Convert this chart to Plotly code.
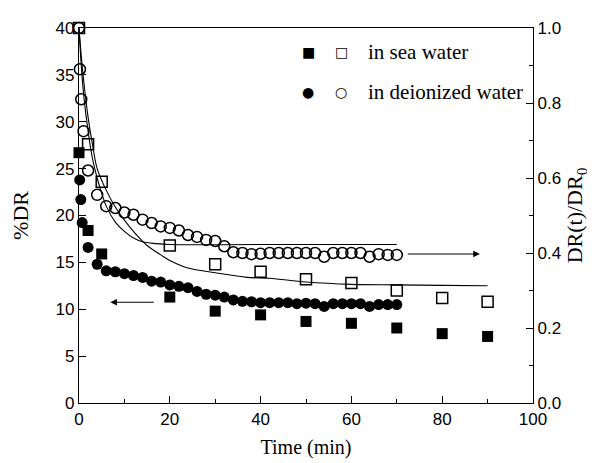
import plotly.graph_objects as go

# ---- data ----
t_sea = [0, 2, 5, 20, 30, 40, 50, 60, 70, 80, 90]
dr_sea = [26.7, 18.4, 15.9, 11.3, 9.8, 9.4, 8.7, 8.5, 8.0, 7.4, 7.1]
ratio_sea = [1.0, 0.69, 0.59, 0.42, 0.37, 0.35, 0.33, 0.32, 0.30, 0.28, 0.27]

t_di = [0.15, 0.4, 0.7, 2] + list(range(4, 71, 2))
dr_di = [23.8, 21.7, 19.25, 16.6, 14.8, 14.1,
         14.0, 13.8, 13.6, 13.4, 13.0, 12.9, 12.6, 12.45, 12.3, 11.9,
         11.6, 11.5, 11.3, 11.0, 10.85, 10.8, 10.7, 10.7, 10.7, 10.7,
         10.6, 10.65, 10.6, 10.3, 10.6, 10.6, 10.6, 10.6, 10.3, 10.5,
         10.5, 10.5]

t_di_ratio = [0, 0.2, 0.5, 1, 2] + list(range(4, 71, 2))
ratio_di = [1.0, 0.89, 0.81, 0.725, 0.62,
            0.555, 0.525, 0.52, 0.508, 0.502, 0.489, 0.48, 0.471, 0.467, 0.46,
            0.448, 0.443, 0.435, 0.432, 0.418, 0.402, 0.40, 0.397, 0.398,
            0.40, 0.40, 0.40, 0.40, 0.40, 0.40, 0.39, 0.40, 0.40, 0.40,
            0.40, 0.39, 0.397, 0.395, 0.395]

fitA_t = [0, 0.5, 1, 2, 3, 4, 4.6, 6, 8, 10, 12, 14, 17, 20, 40, 70]
fitA = [40, 36, 33, 29, 26, 24, 23, 21, 19.3, 18.3, 17.6, 17.2, 17.0, 16.9, 16.9, 16.9]
fitB_t = [0, 0.5, 1, 2, 3, 4, 5.7, 8, 10, 12, 15, 18, 20, 24, 30, 37, 42, 50, 60, 70, 80, 90]
fitB = [40, 37, 34.5, 30.5, 27.5, 25, 23, 20.9, 19.5, 18.3, 16.8, 15.8, 15.2, 14.4,
        13.9, 13.4, 13.3, 12.9, 12.65, 12.6, 12.55, 12.5]

x_ticks = [0, 20, 40, 60, 80, 100]
y_ticks = [0, 5, 10, 15, 20, 25, 30, 35, 40]
y2_ticks = [0.0, 0.2, 0.4, 0.6, 0.8, 1.0]

SERIF = "Liberation Serif"
SANS = "Liberation Sans"

fig = go.Figure()

line_style = dict(color="black", width=1.1)
fig.add_trace(go.Scatter(x=fitA_t, y=fitA, mode="lines", line=dict(shape="spline", **line_style),
                         showlegend=False, yaxis="y"))
fig.add_trace(go.Scatter(x=fitB_t, y=fitB, mode="lines", line=dict(shape="spline", **line_style),
                         showlegend=False, yaxis="y"))

fig.add_trace(go.Scatter(x=t_di_ratio, y=ratio_di, mode="markers", yaxis="y2",
                         marker=dict(symbol="circle-open", size=11, color="black",
                                     line=dict(width=1.5, color="black")),
                         cliponaxis=False, showlegend=False))
fig.add_trace(go.Scatter(x=t_sea, y=ratio_sea, mode="markers", yaxis="y2",
                         marker=dict(symbol="square-open", size=11, color="black",
                                     line=dict(width=1.5, color="black")),
                         cliponaxis=False, showlegend=False))
fig.add_trace(go.Scatter(x=t_di, y=dr_di, mode="markers", yaxis="y",
                         marker=dict(symbol="circle", size=11, color="black"),
                         cliponaxis=False, showlegend=False))
fig.add_trace(go.Scatter(x=t_sea, y=dr_sea, mode="markers", yaxis="y",
                         marker=dict(symbol="square", size=11, color="black"),
                         cliponaxis=False, showlegend=False))

# arrows pointing to the relevant axes
fig.add_annotation(x=6.9, y=10.74, ax=16.8, ay=10.74, xref="x", yref="y", axref="x", ayref="y",
                   text="", showarrow=True, arrowhead=2, arrowsize=1.2, arrowwidth=1.1,
                   arrowcolor="black")
fig.add_annotation(x=88.3, y=15.9, ax=72.1, ay=15.9, xref="x", yref="y", axref="x", ayref="y",
                   text="", showarrow=True, arrowhead=2, arrowsize=1.2, arrowwidth=1.1,
                   arrowcolor="black")

# legend built from text
legend_rows = [("■", "□", "in sea water", 0.937), ("●", "○", "in deionized water", 0.83)]
for filled, hollow, label, yy in legend_rows:
    fig.add_annotation(x=(300 - 71) / 454, y=yy, xref="paper", yref="paper", text=filled,
                       showarrow=False, font=dict(family="DejaVu Sans", size=14, color="black"),
                       xanchor="center", yanchor="middle")
    fig.add_annotation(x=(333 - 71) / 454, y=yy, xref="paper", yref="paper", text=hollow,
                       showarrow=False, font=dict(family="DejaVu Sans", size=14, color="black"),
                       xanchor="center", yanchor="middle")
    fig.add_annotation(x=(358 - 71) / 454, y=yy, xref="paper", yref="paper", text=label,
                       showarrow=False, font=dict(family=SERIF, size=21, color="black"),
                       xanchor="left", yanchor="middle")

axis_common = dict(showline=True, linecolor="black", linewidth=1.2, showgrid=False,
                   zeroline=False, ticks="inside", tickcolor="black", ticklen=7, tickwidth=1,
                   tickfont=dict(family=SANS, size=17, color="black"))

fig.update_layout(
    width=595, height=463,
    margin=dict(l=71, r=70, t=20, b=68),
    paper_bgcolor="white", plot_bgcolor="white",
    showlegend=False,
    xaxis=dict(range=[0, 100], tickvals=x_ticks, mirror=True,
               minor=dict(ticks="inside", ticklen=4, dtick=10, tickcolor="black"),
               title=dict(text="Time (min)", font=dict(family=SERIF, size=20, color="black"),
                          standoff=12),
               **axis_common),
    yaxis=dict(range=[0, 40], tickvals=y_ticks,
               title=dict(text="%DR", font=dict(family=SERIF, size=22, color="black"),
                          standoff=20),
               **axis_common),
    yaxis2=dict(range=[0, 1], tickvals=y2_ticks, tickformat=".1f", overlaying="y", side="right",
                minor=dict(ticks="inside", ticklen=4, dtick=0.1, tickcolor="black"),
                title=dict(text="DR(t)/DR<sub>0</sub>", font=dict(family=SERIF, size=22, color="black"),
                           standoff=6),
                **axis_common),
)

fig.write_html("out.html")
